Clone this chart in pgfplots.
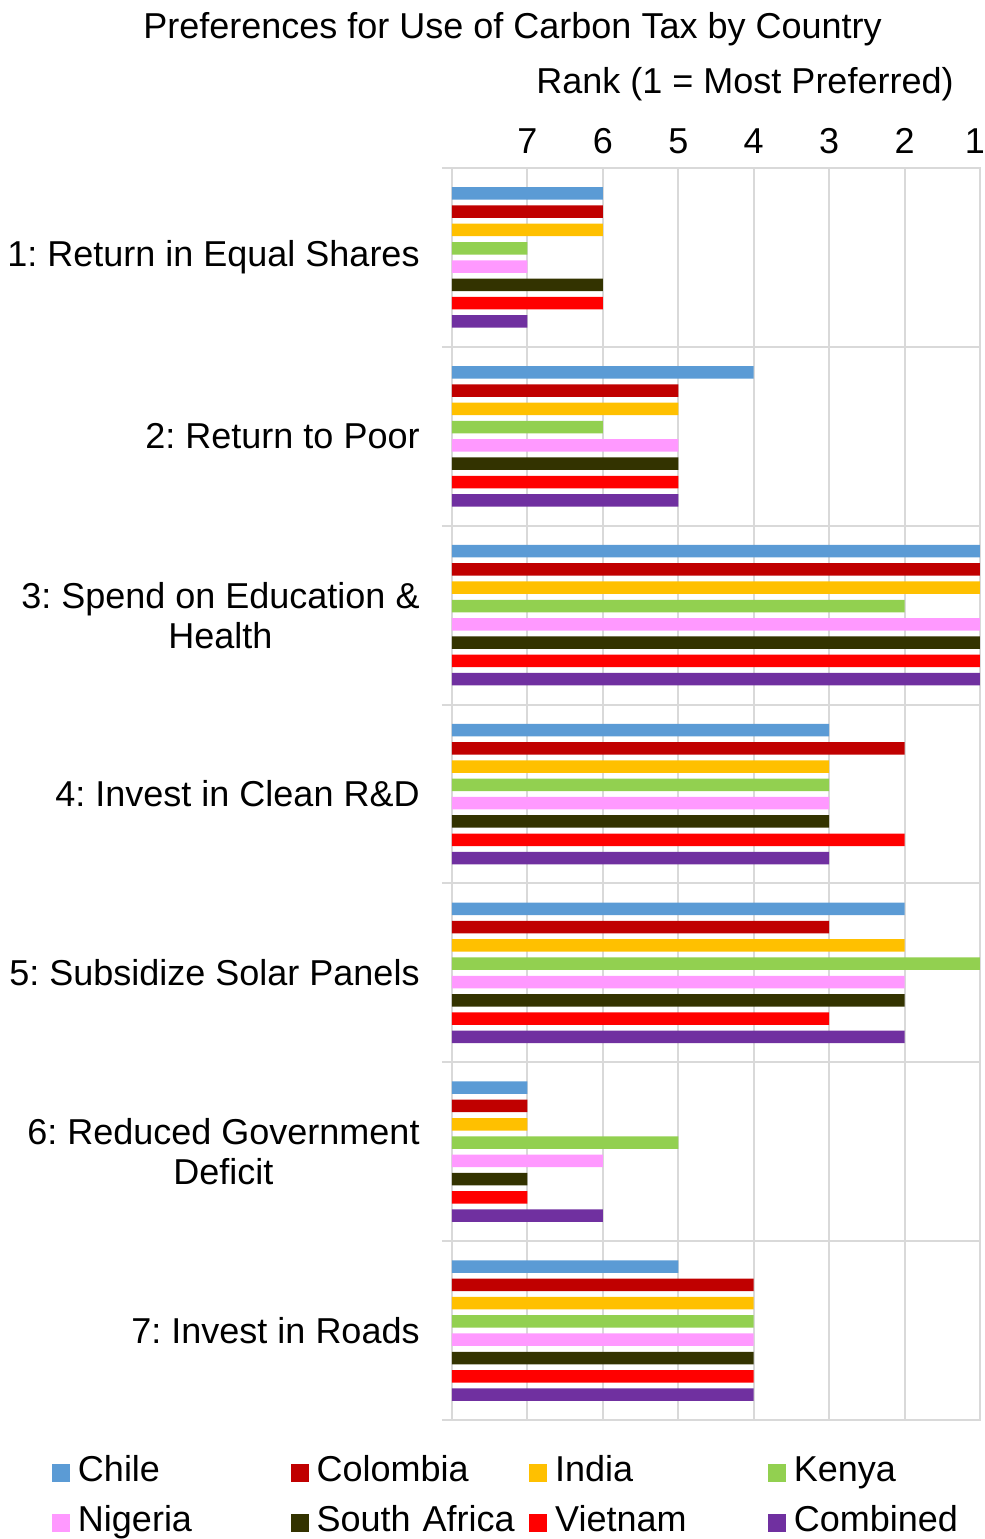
\documentclass[border=0pt]{standalone}
\usepackage{pgfplots}
\pgfplotsset{compat=1.18}
\usepackage{pgfplotstable}
\usepackage{fontspec}
\setmainfont{Liberation Sans}
\frenchspacing
\definecolor{cChile}{HTML}{5B9BD5}
\definecolor{cColombia}{HTML}{C00000}
\definecolor{cIndia}{HTML}{FFC000}
\definecolor{cKenya}{HTML}{92D050}
\definecolor{cNigeria}{HTML}{FF99FF}
\definecolor{cSAfrica}{HTML}{333300}
\definecolor{cVietnam}{HTML}{FF0000}
\definecolor{cCombined}{HTML}{7030A0}
\definecolor{gridc}{HTML}{D9D9D9}
\newcommand{\f}{\fontsize{18}{20}\selectfont}

% ranks (1 = most preferred); pos 7 = top category
\pgfplotstableread{
pos Chile Colombia India Kenya Nigeria SAfrica Vietnam Combined
7 6 6 6 7 7 6 6 7
6 4 5 5 6 5 5 5 5
5 1 1 1 2 1 1 1 1
4 3 2 3 3 3 3 2 3
3 2 3 2 1 2 2 3 2
2 7 7 7 5 6 7 7 6
1 5 4 4 4 4 4 4 4
}\ranks

\pgfplotsset{
  mybar/.style={xbar, bar width=6.25pt, draw=none,
    legend image code/.code={\fill[##1] (0pt,-4.5pt) rectangle (9pt,4.5pt);}},
}

\begin{document}
\begin{tikzpicture}
\useasboundingbox (0,0) rectangle (492.5pt,769.5pt);
\node[anchor=base, font=\f, inner sep=0pt] at (256.25pt,750pt) {Preferences for Use of Carbon Tax by Country};
\node[anchor=base, font=\f, inner sep=0pt] at (372.5pt,722.5pt) {Rank (1 = Most Preferred)};
\begin{axis}[
  at={(226pt,59.5pt)}, anchor=south west,
  scale only axis, width=264pt, height=626pt,
  xmin=0, xmax=7, ymin=0.5, ymax=7.5,
  xtick={1,...,7}, xticklabels={7,6,5,4,3,2,{1\kern5pt}},
  xticklabel pos=right,
  xticklabel style={font=\f, anchor=base, inner sep=0pt, yshift=7.5pt},
  xmajorgrids=true,
  ytick={1,...,7},
  yticklabels={{7: Invest in Roads},{6: Reduced Government\\Deficit},{5: Subsidize Solar Panels},{4: Invest in Clean R\&D},{3: Spend on Education \&\\Health},{2: Return to Poor},{1: Return in Equal Shares}},
  yticklabel style={font=\f, align=center, anchor=east, inner sep=0pt, xshift=-16pt},
  minor ytick={0.5,1.5,...,7.5},
  yminorgrids=true,
  ytick pos=left, xtick pos=right,
  tick align=outside,
  major tick length=0pt, minor tick length=5pt,
  grid style={gridc, line width=1pt},
  minor grid style={gridc, line width=1pt},
  axis line style={gridc, line width=1pt},
  tick style={gridc, line width=1pt},
  minor tick style={gridc, line width=1pt},
  /pgf/number format/assume math mode=true,
  legend columns=4,
  legend cell align=left,
  legend style={
    at={(-0.75758,-0.028754)}, anchor=north west,
    draw=none, fill=none, inner sep=0pt, outer sep=0pt,
    column sep=0pt, row sep=8pt,
    /tikz/every odd column/.append style={column sep=4pt},
    nodes={font=\f, inner sep=0pt, text width=106.3pt, align=left, text height=13pt, text depth=4pt},
  },
]
\addplot[mybar, bar shift=32pt, fill=cChile] table[x expr={8-\thisrow{Chile}}, y=pos] {\ranks};
\addlegendentry{Chile}
\addplot[mybar, bar shift=22.875pt, fill=cColombia] table[x expr={8-\thisrow{Colombia}}, y=pos] {\ranks};
\addlegendentry{Colombia}
\addplot[mybar, bar shift=13.725pt, fill=cIndia] table[x expr={8-\thisrow{India}}, y=pos] {\ranks};
\addlegendentry{India}
\addplot[mybar, bar shift=4.575pt, fill=cKenya] table[x expr={8-\thisrow{Kenya}}, y=pos] {\ranks};
\addlegendentry{Kenya}
\addplot[mybar, bar shift=-4.575pt, fill=cNigeria] table[x expr={8-\thisrow{Nigeria}}, y=pos] {\ranks};
\addlegendentry{Nigeria}
\addplot[mybar, bar shift=-13.725pt, fill=cSAfrica] table[x expr={8-\thisrow{SAfrica}}, y=pos] {\ranks};
\addlegendentry{South Africa}
\addplot[mybar, bar shift=-22.875pt, fill=cVietnam] table[x expr={8-\thisrow{Vietnam}}, y=pos] {\ranks};
\addlegendentry{Vietnam}
\addplot[mybar, bar shift=-32pt, fill=cCombined] table[x expr={8-\thisrow{Combined}}, y=pos] {\ranks};
\addlegendentry{Combined}
\end{axis}
\end{tikzpicture}
\end{document}
